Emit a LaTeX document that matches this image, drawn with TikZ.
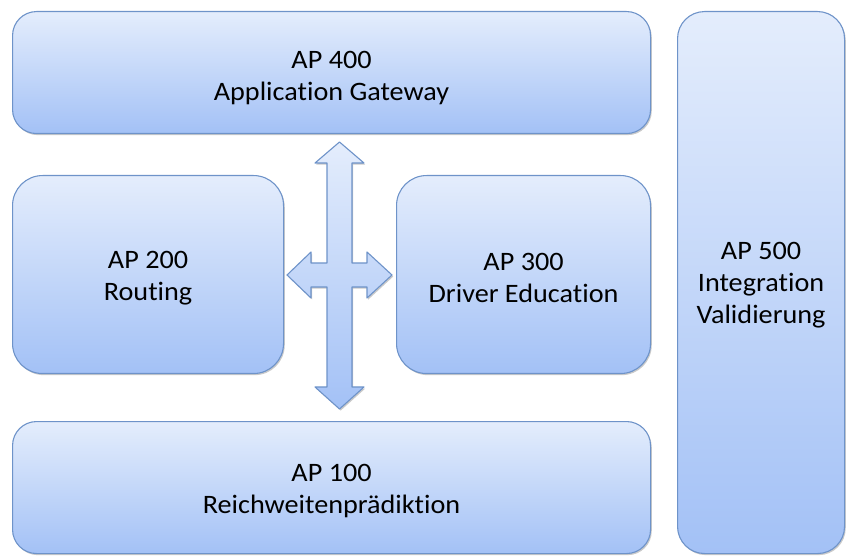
\documentclass[tikz,border=0pt]{standalone}
\usepackage{fontspec}
\setmainfont{Carlito}[FakeStretch=1.06, Ligatures=NoCommon]
\usetikzlibrary{shadows}
\definecolor{boxtop}{HTML}{E4EDFC}
\definecolor{boxbot}{HTML}{A3C1F6}
\definecolor{boxline}{HTML}{6E93C9}
\tikzset{
  apbox/.style={draw=boxline, line width=1.1pt, rounded corners=24pt,
    top color=boxtop, bottom color=boxbot, anchor=north west, inner sep=0pt,
    drop shadow={shadow xshift=1.2pt, shadow yshift=-1.6pt, opacity=0.35, fill=black!60}},
  aptext/.style={align=center, inner sep=0pt, text=black,
    font=\fontsize{26.6}{32}\selectfont},
  crossarrow/.style={draw=boxline, line width=1.1pt, line join=round,
    top color=boxtop, bottom color=boxbot,
    drop shadow={shadow xshift=1.2pt, shadow yshift=-1.6pt, opacity=0.35, fill=black!60}}
}
\begin{document}
\begin{tikzpicture}[x=1pt, y=-1pt]
\useasboundingbox (0,0) rectangle (847,556);
\node[apbox, minimum width=638pt, minimum height=122pt] (ap400) at (12,11) {};
\node[apbox, minimum width=271pt, minimum height=198pt, rounded corners=30pt] (ap200) at (12,175) {};
\node[apbox, minimum width=254pt, minimum height=198pt, rounded corners=30pt] (ap300) at (396,175) {};
\node[apbox, minimum width=638pt, minimum height=132pt] (ap100) at (12,421) {};
\node[apbox, minimum width=167pt, minimum height=542pt, rounded corners=27pt] (ap500) at (677,11) {};
\node[aptext] (t400) at ([yshift=-5pt]ap400.center) {AP 400\\Application Gateway};
\node[aptext] (t200) at ([yshift=-4pt]ap200.center) {AP 200\\Routing};
\node[aptext] (t300) at ([yshift=-3pt]ap300.center) {AP 300\\Driver Education};
\node[aptext] (t100) at ([yshift=-3pt]ap100.center) {AP 100\\Reichweitenprädiktion};
\node[aptext] (t500) at ([yshift=-3pt]ap500.center) {AP 500\\Integration\\Validierung};
\path[crossarrow] (339.5,142) -- (364,163) -- (352,163) -- (352,263) -- (367,263) -- (367,252)
  -- (392,275) -- (367,298) -- (367,287) -- (352,287) -- (352,387) -- (364,387)
  -- (339.5,409) -- (315,387) -- (327,387) -- (327,287) -- (311,287) -- (311,298)
  -- (287,275) -- (311,252) -- (311,263) -- (327,263) -- (327,163) -- (315,163) -- cycle;
\end{tikzpicture}
\end{document}
